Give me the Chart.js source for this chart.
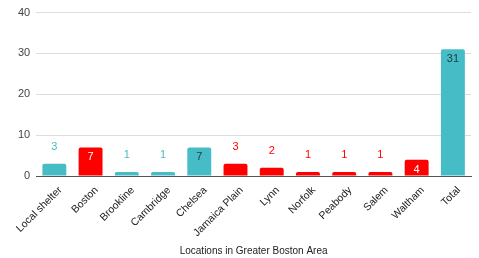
<!DOCTYPE html>
<html>
<head>
<meta charset="utf-8">
<script src="https://cdn.jsdelivr.net/npm/chart.js@4/dist/chart.umd.min.js"></script>
<style>
  html, body { margin: 0; padding: 0; background: #fff; }
  #wrap { width: 479px; height: 258px; }
</style>
</head>
<body>
<div id="wrap"><canvas id="myChart"></canvas></div>
<script>
const locations = ['Local shelter', 'Boston', 'Brookline', 'Cambridge', 'Chelsea', 'Jamaica Plain',
  'Lynn', 'Norfolk', 'Peabody', 'Salem', 'Waltham', 'Total'];
const counts = [3, 7, 1, 1, 7, 3, 2, 1, 1, 1, 4, 31];
const barKinds = ['teal', 'red', 'teal', 'teal', 'teal', 'red', 'red', 'red', 'red', 'red', 'red', 'teal'];
const yTicks = [0, 10, 20, 30, 40];

const teal = '#46bdc6';
const red = '#ff0000';
let barColors = barKinds.map(k => k === 'teal' ? teal : red);

// draws the value on each bar, inside when the bar is tall enough
const valueLabels = {
  id: 'valueLabels',
  afterDatasetsDraw(chart) {
    let ctx = chart.ctx;
    let meta = chart.getDatasetMeta(0);
    ctx.save();
    ctx.font = '11px "Liberation Sans", Arial, sans-serif';
    ctx.textAlign = 'center';
    ctx.textBaseline = 'middle';
    meta.data.forEach((bar, i) => {
      let v = counts[i];
      if (v >= 4) {
        ctx.fillStyle = barKinds[i] === 'teal' ? '#1f3a3d' : '#ffffff';
        ctx.fillText(v, bar.x, bar.y + 10);
      } else {
        ctx.fillStyle = barColors[i];
        ctx.fillText(v, bar.x, bar.y - 17);
      }
    });
    ctx.restore();
  }
};

new Chart(document.getElementById('myChart'), {
  type: 'bar',
  data: {
    labels: locations,
    datasets: [{
      data: counts,
      backgroundColor: barColors,
      borderRadius: { topLeft: 2, topRight: 2 },
      borderSkipped: 'bottom',
      categoryPercentage: 1,
      barPercentage: 0.66
    }]
  },
  options: {
    responsive: true,
    maintainAspectRatio: false,
    animation: false,
    layout: { padding: { left: 12, right: 8, top: 10, bottom: 0 } },
    plugins: {
      legend: { display: false },
      tooltip: { enabled: false }
    },
    scales: {
      x: {
        afterFit(axis) { axis.height = 82; },
        grid: { display: false },
        border: { color: '#555', width: 1 },
        ticks: {
          color: '#222',
          font: { family: '"Liberation Sans", Arial, sans-serif', size: 10.5 },
          maxRotation: 45,
          minRotation: 45,
          autoSkip: false,
          padding: 0,
          labelOffset: 6
        },
        title: {
          display: true,
          text: 'Locations in Greater Boston Area',
          color: '#222',
          font: { family: '"Liberation Sans", Arial, sans-serif', size: 10 },
          padding: { top: 4, bottom: 1 }
        }
      },
      y: {
        min: 0,
        max: 40,
        afterBuildTicks(axis) { axis.ticks = yTicks.map(v => ({ value: v })); },
        grid: { color: '#dddddd', drawTicks: false },
        border: { display: false },
        ticks: {
          color: '#444',
          font: { family: '"Liberation Sans", Arial, sans-serif', size: 11 },
          padding: 6
        }
      }
    }
  },
  plugins: [valueLabels]
});
</script>
</body>
</html>
